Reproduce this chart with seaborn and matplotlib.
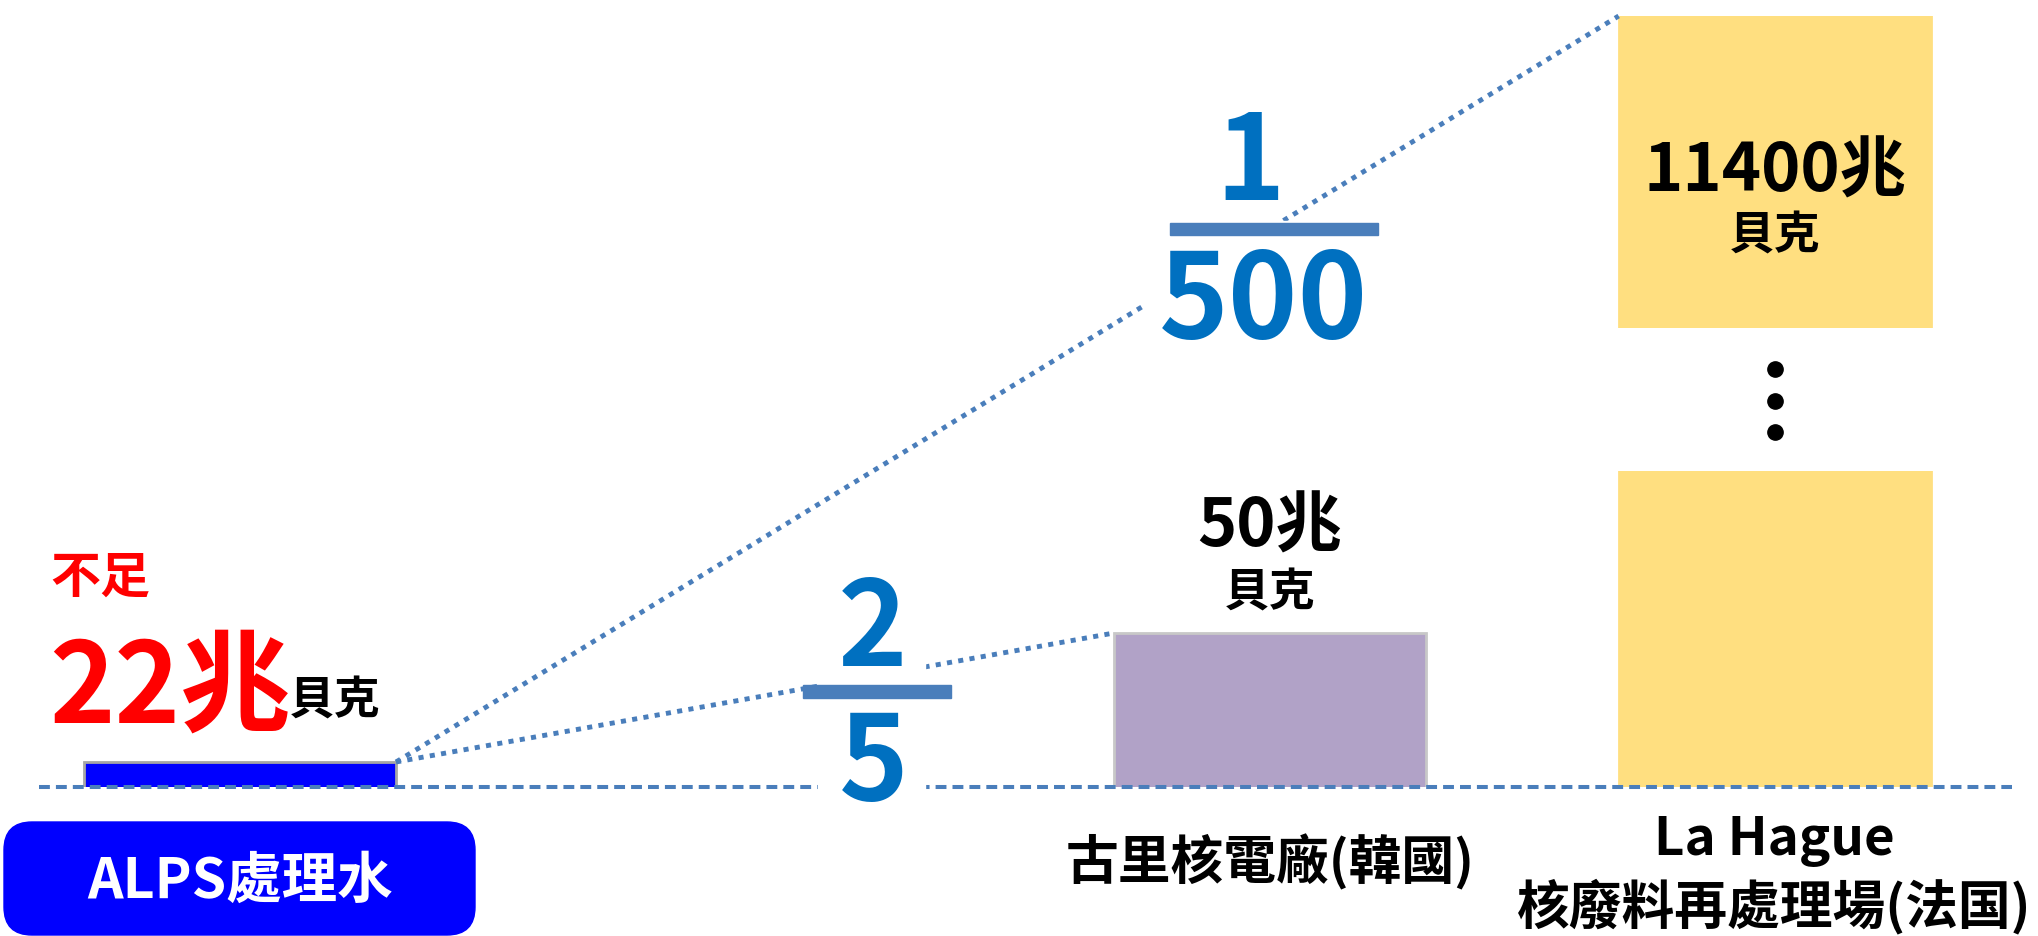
import matplotlib
matplotlib.use("Agg")
import matplotlib.pyplot as plt
import seaborn as sns
import pandas as pd
from matplotlib.patches import Rectangle, FancyBboxPatch

# ---------------- data ----------------
categories = ["ALPS處理水", "古里核電廠(韓國)", "La Hague\n核廢料再處理場(法国)"]
values = [22, 50, 11400]                      # 兆貝克 (TBq / year)
value_labels = ["22兆", "50兆", "11400兆"]
unit_label = "貝克"
prefix_label = "不足"
ratio_low = ["2", "5"]
ratio_high = ["1", "500"]

# ---------------- layout / style ----------------
positions = [0.0, 2.0, 2.98]
bar_colors = ["#0000FF", "#B1A2C7", "#FFDF80"]
bar_edges = ["#A6A6A6", "#C8C8C8", "#FFDF80"]
line_color = "#4A7EBB"
frac_color = "#0070C0"

W, H, DPI = 2038, 937, 100
UNIT = 515.0            # pixels per x unit
X0 = 240.0              # pixel of x = 0

sns.set_theme(style="white")
plt.rcParams["font.family"] = ["Noto Sans CJK TC", "DejaVu Sans"]

fig = plt.figure(figsize=(W / DPI, H / DPI), dpi=DPI)
fig.patch.set_facecolor("white")


def px_rect(left, top, right, bottom):
    return [left / W, 1 - bottom / H, (right - left) / W, (bottom - top) / H]


ax_low = fig.add_axes(px_rect(0, 472, W, 788))
ax_up = fig.add_axes(px_rect(0, 17, W, 329))

df = pd.DataFrame({"pos": positions, "value": values, "cat": categories})
for ax in (ax_low, ax_up):
    sns.barplot(data=df, x="pos", y="value", hue="cat", palette=bar_colors,
                native_scale=True, width=0.606 / 0.98, dodge=False,
                saturation=1, errorbar=None, legend=False, ax=ax,
                linewidth=2)
    for p in ax.patches:
        cx = p.get_x() + p.get_width() / 2
        i = min(range(len(positions)), key=lambda k: abs(positions[k] - cx))
        p.set_edgecolor(bar_edges[i])
    ax.set_xlim(-X0 / UNIT, (W - X0) / UNIT)
    ax.set_axis_off()
    ax.patch.set_alpha(0)

ax_low.set_ylim(16.57, 85.16)
ax_up.set_ylim(11000, 11400)

# overlay in pixel coordinates
ax_o = fig.add_axes([0, 0, 1, 1], zorder=5)
ax_o.set_xlim(0, W)
ax_o.set_ylim(H, 0)
ax_o.set_axis_off()
ax_o.patch.set_alpha(0)


def to_px(ax, x, y):
    dx, dy = ax.transData.transform((x, y))
    return dx, H - dy


def bar_of(ax, i):
    for p in ax.patches:
        cx = p.get_x() + p.get_width() / 2
        if abs(cx - positions[i]) < 0.05:
            return p


pa = bar_of(ax_low, 0)
pb = bar_of(ax_low, 1)
pc = bar_of(ax_up, 2)

alps_tr = to_px(ax_low, pa.get_x() + pa.get_width(), values[0])
kori_tl = to_px(ax_low, pb.get_x(), values[1])
hague_tl = to_px(ax_up, pc.get_x(), values[2])
base_y = to_px(ax_low, 0, ax_low.get_ylim()[0])[1]

# dotted connector lines
for end in (kori_tl, hague_tl):
    ax_o.plot([alps_tr[0], end[0]], [alps_tr[1], end[1]], color=line_color,
              lw=3.5, dashes=(1.05, 1.3), dash_capstyle="butt", zorder=1)

# dashed baseline
ax_o.plot([39, 2012], [base_y, base_y], color=line_color, lw=2.9,
          dashes=(2.7, 1.5), dash_capstyle="butt", zorder=1)

# white masks behind fractions
ax_o.add_patch(Rectangle((818, 655), 107, 145, color="white", zorder=2))
ax_o.add_patch(Rectangle((1144, 222), 236, 140, color="white", zorder=2))

# fractions
fk = dict(color=frac_color, fontsize=85, fontweight="bold", ha="center",
          va="center", zorder=4)
ax_o.text(873, 632, ratio_low[0], **fk)
ax_o.text(874, 766, ratio_low[1], **fk)
ax_o.add_patch(Rectangle((803, 686), 148, 13, color=line_color, zorder=3))
ax_o.text(1250, 166, ratio_high[0], **fk)
ax_o.text(1264, 304, ratio_high[1], **fk)
ax_o.add_patch(Rectangle((1170, 224), 208, 12, color=line_color, zorder=3))

# value labels
cx_a = to_px(ax_low, positions[0], 0)[0]
cx_b = to_px(ax_low, positions[1], 0)[0]
cx_c = to_px(ax_up, positions[2], 0)[0]

ax_o.text(100, alps_tr[1] - 185, prefix_label, color="#FF0000", fontsize=36,
          fontweight="bold", ha="center", va="center", zorder=4)
ax_o.text(49, alps_tr[1] - 40, value_labels[0], color="#FF0000", fontsize=80,
          fontweight="bold", ha="left", va="baseline", zorder=4)
ax_o.text(289, alps_tr[1] - 48, unit_label, color="black", fontsize=33,
          fontweight="bold", ha="left", va="baseline", zorder=4)

ax_o.text(cx_b, kori_tl[1] - 107, value_labels[1], color="black", fontsize=48,
          fontweight="bold", ha="center", va="center", zorder=4)
ax_o.text(cx_b, kori_tl[1] - 40, unit_label, color="black", fontsize=33,
          fontweight="bold", ha="center", va="center", zorder=4)

ax_o.text(cx_c, hague_tl[1] + 155, value_labels[2], color="black", fontsize=48,
          fontweight="bold", ha="center", va="center", zorder=4)
ax_o.text(cx_c, hague_tl[1] + 220, unit_label, color="black", fontsize=33,
          fontweight="bold", ha="center", va="center", zorder=4)

# vertical ellipsis between broken bar pieces
ax_o.plot([cx_c] * 3, [370, 402, 433], "o", color="black", ms=11, zorder=4)

# category labels
ax_o.add_patch(FancyBboxPatch((4, 823), 471, 113,
                              boxstyle="round,pad=0,rounding_size=28",
                              facecolor="#0000FF", edgecolor="#0000FF",
                              zorder=3))
ax_o.text(cx_a, 882, categories[0], color="white", fontsize=40,
          fontweight="bold", ha="center", va="center", zorder=4)
ax_o.text(cx_b, 862, categories[1], color="black", fontsize=38,
          fontweight="bold", ha="center", va="center", zorder=4)
ax_o.text(cx_c, 874, categories[2], color="black", fontsize=38,
          fontweight="bold", ha="center", va="center", linespacing=1.25,
          zorder=4)

fig.savefig("out.png", dpi=DPI)
